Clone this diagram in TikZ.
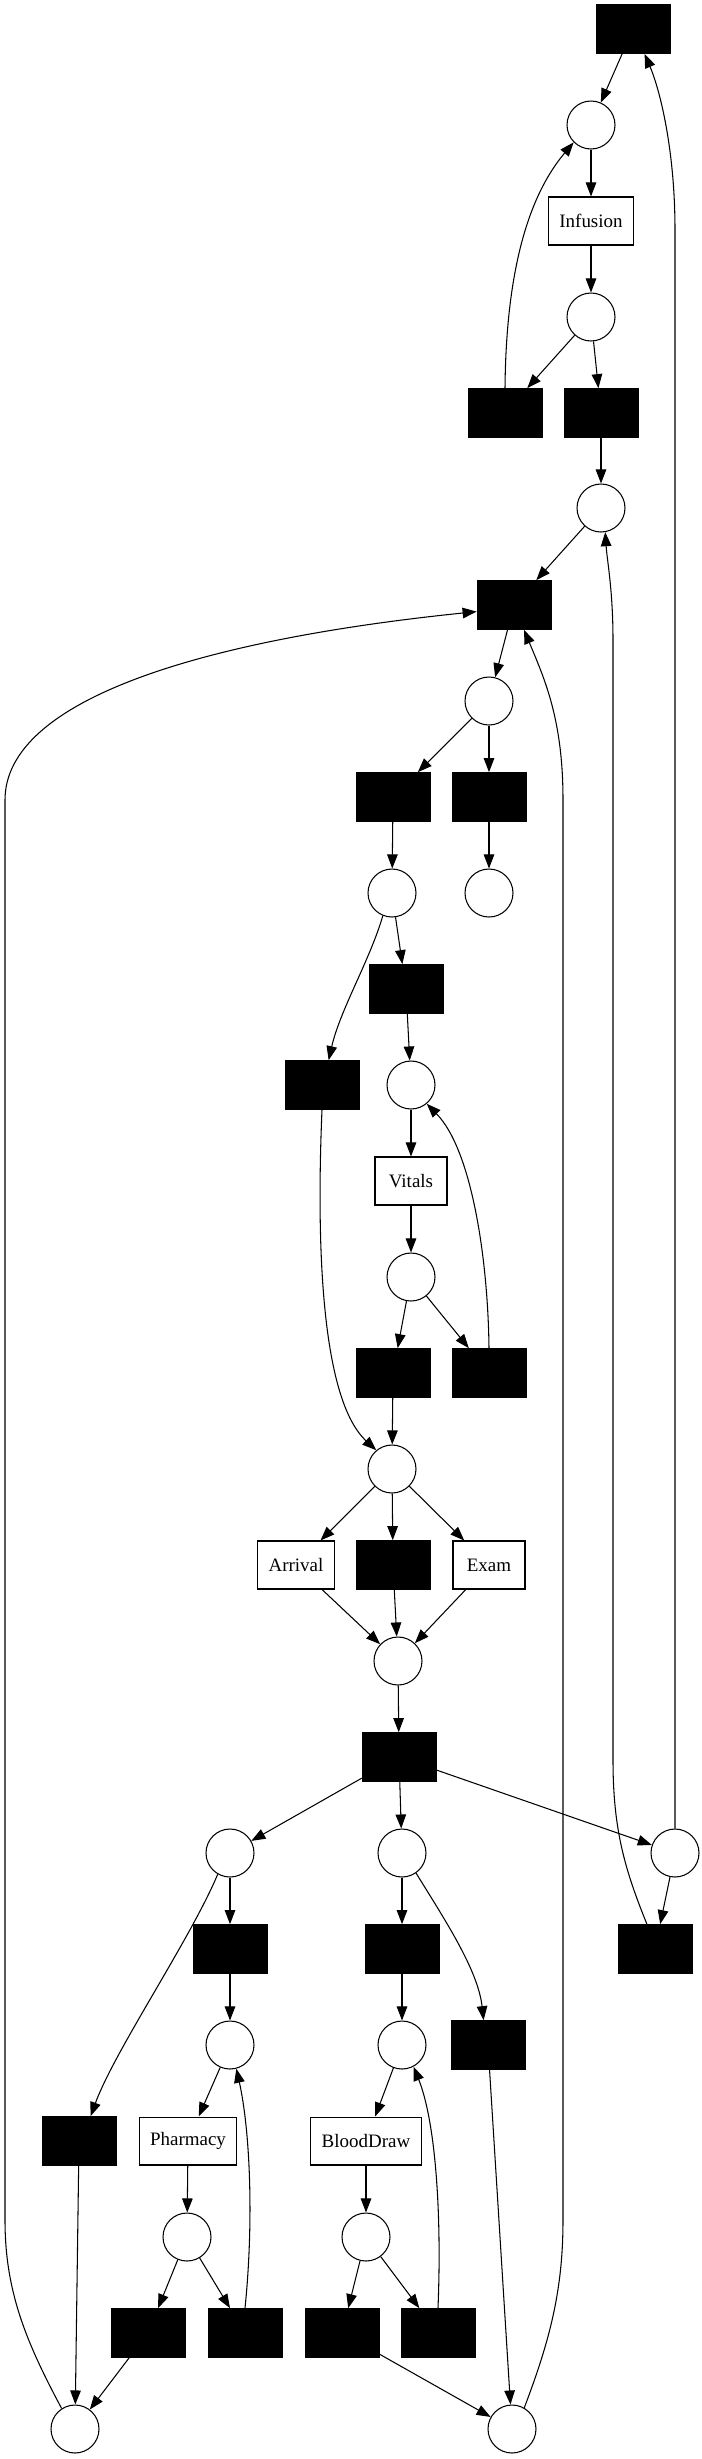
\documentclass[tikz,border=0pt]{standalone}
\usepackage{fontspec}
\setmainfont{Liberation Serif}
\usepackage{tikz}
\usetikzlibrary{arrows.meta}

\begin{document}
\begin{tikzpicture}[x=0.02cm, y=-0.02cm,
  pl/.style={draw, circle, minimum size=0.96cm, inner sep=0pt, line width=0.6pt},
  tr/.style={draw, fill=black, minimum width=1.48cm, minimum height=0.98cm, inner sep=0pt},
  task/.style={draw, fill=white, minimum width=1.44cm, minimum height=0.96cm, inner xsep=0.22cm, inner ysep=0pt, line width=0.6pt, font=\fontsize{10.8}{13}\selectfont},
  flow/.style={-{Triangle[length=8pt, width=6pt]}, line width=0.6pt}]
\useasboundingbox (0,0) rectangle (701,2459);

\node[tr] (t1) at (633,29) {};
\node[pl] (p1) at (591,125) {};
\node[task] (infusion) at (591,221) {Infusion};
\node[pl] (p2) at (591,317) {};
\node[tr] (t2) at (505,413) {};
\node[tr] (t3) at (601,413) {};
\node[pl] (p3) at (601,508) {};
\node[tr] (t4) at (514,605) {};
\node[pl] (p4) at (489,701) {};
\node[tr] (t5) at (393,797) {};
\node[tr] (t6) at (489,797) {};
\node[pl] (p5) at (392,893) {};
\node[pl] (p6) at (489,893) {};
\node[tr] (t7) at (406,989) {};
\node[tr] (t8) at (322,1085) {};
\node[pl] (p7) at (411,1085) {};
\node[task] (vitals) at (411,1181) {Vitals};
\node[pl] (p8) at (411,1277) {};
\node[tr] (t9) at (393,1373) {};
\node[tr] (t10) at (489,1373) {};
\node[pl] (p9) at (392,1469) {};
\node[task] (arrival) at (296,1565) {Arrival};
\node[tr] (t11) at (393,1565) {};
\node[task] (exam) at (489,1565) {Exam};
\node[pl] (p10) at (398,1661) {};
\node[tr] (t12) at (399,1757) {};
\node[pl] (p11) at (230,1853) {};
\node[pl] (p12) at (402,1853) {};
\node[pl] (p13) at (675,1853) {};
\node[tr] (t13) at (230,1949) {};
\node[tr] (t14) at (402,1949) {};
\node[tr] (t15) at (655,1949) {};
\node[pl] (p14) at (230,2045) {};
\node[pl] (p15) at (402,2045) {};
\node[tr] (t16) at (488,2045) {};
\node[tr] (t17) at (79,2141) {};
\node[task] (pharmacy) at (188,2141) {Pharmacy};
\node[task] (blooddraw) at (366,2141) {BloodDraw};
\node[pl] (p16) at (187,2237) {};
\node[pl] (p17) at (366,2237) {};
\node[tr] (t18) at (148,2333) {};
\node[tr] (t19) at (245,2333) {};
\node[tr] (t20) at (342,2333) {};
\node[tr] (t21) at (438,2333) {};
\node[pl] (p18) at (75,2429) {};
\node[pl] (p19) at (512,2429) {};

\draw[flow] (t1) -- (p1);
\draw[flow] (p1) -- (infusion);
\draw[flow] (infusion) -- (p2);
\draw[flow] (p2) -- (t2);
\draw[flow] (p2) -- (t3);
\draw[flow] (t2.north) .. controls (506,280) and (525,200) .. (p1.225);
\draw[flow] (t3) -- (p3);
\draw[flow] (p3) -- (t4);
\draw[flow] (t4) -- (p4);
\draw[flow] (p4) -- (t5);
\draw[flow] (p4) -- (t6);
\draw[flow] (t5) -- (p5);
\draw[flow] (t6) -- (p6);
\draw[flow] (p5) -- (t7);
\draw[flow] (p5.-112) .. controls (370,960) and (340,1010) .. (t8.75);
\draw[flow] (t7) -- (p7);
\draw[flow] (p7) -- (vitals);
\draw[flow] (vitals) -- (p8);
\draw[flow] (p8) -- (t9);
\draw[flow] (p8) -- (t10);
\draw[flow] (t10.north) .. controls (488,1260) and (472,1150) .. (p7.-50);
\draw[flow] (t8.south) .. controls (316,1250) and (322,1400) .. (p9.130);
\draw[flow] (t9) -- (p9);
\draw[flow] (p9) -- (arrival);
\draw[flow] (p9) -- (t11);
\draw[flow] (p9) -- (exam);
\draw[flow] (arrival) -- (p10);
\draw[flow] (t11) -- (p10);
\draw[flow] (exam) -- (p10);
\draw[flow] (p10) -- (t12);
\draw[flow] (t12) -- (p11);
\draw[flow] (t12) -- (p12);
\draw[flow] (t12) -- (p13);
\draw[flow] (p11) -- (t13);
\draw[flow] (p11.-120) .. controls (190,1940) and (115,2050) .. (t17.65);
\draw[flow] (p12) -- (t14);
\draw[flow] (p12.-55) .. controls (445,1920) and (478,1970) .. (t16.100);
\draw[flow] (p13) -- (t15);
\draw[flow] (p13.north) -- (675,230) .. controls (675,150) and (660,90) .. (t1.-65);
\draw[flow] (t15.108) .. controls (625,1870) and (613,1830) .. (613,1760) -- (613,640) .. controls (613,590) and (607,560) .. (p3.-80);
\draw[flow] (t13) -- (p14);
\draw[flow] (t14) -- (p15);
\draw[flow] (p14) -- (pharmacy);
\draw[flow] (p15) -- (blooddraw);
\draw[flow] (pharmacy) -- (p16);
\draw[flow] (blooddraw) -- (p17);
\draw[flow] (p16) -- (t18);
\draw[flow] (p16) -- (t19);
\draw[flow] (p17) -- (t20);
\draw[flow] (p17) -- (t21);
\draw[flow] (t19.north) .. controls (254,2220) and (250,2130) .. (p14.-75);
\draw[flow] (t21.north) .. controls (442,2210) and (435,2120) .. (p15.-62);
\draw[flow] (t17) -- (p18);
\draw[flow] (t18) -- (p18);
\draw[flow] (t16) -- (p19);
\draw[flow] (t20) -- (p19);
\draw[flow] (p18.123) .. controls (25,2340) and (5,2290) .. (5,2220) -- (5,800) .. controls (5,700) and (200,640) .. (t4.190);
\draw[flow] (p19.60) .. controls (550,2340) and (563,2290) .. (563,2220) -- (563,800) .. controls (563,720) and (545,680) .. (t4.-68);
\end{tikzpicture}
\end{document}
